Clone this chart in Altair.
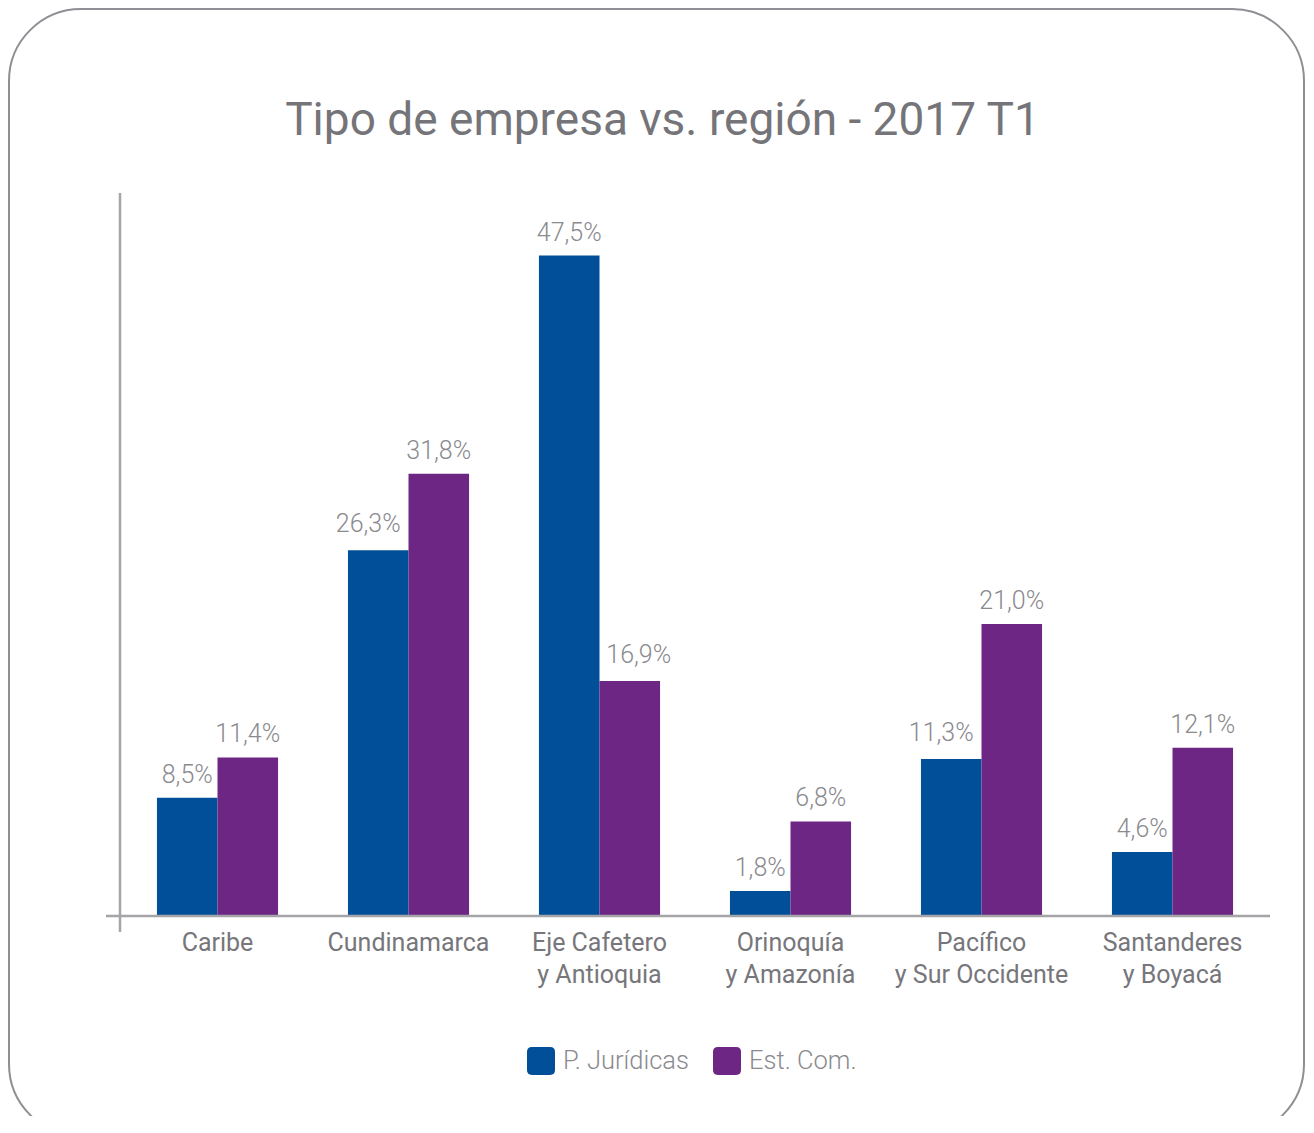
import altair as alt
import pandas as pd

# ---- data ----
regions = [
    "Caribe",
    "Cundinamarca",
    "Eje Cafetero|y Antioquia",
    "Orinoquía|y Amazonía",
    "Pacífico|y Sur Occidente",
    "Santanderes|y Boyacá",
]
series = ["P. Jurídicas", "Est. Com."]
juridicas = [8.5, 26.3, 47.5, 1.8, 11.3, 4.6]
est_com = [11.4, 31.8, 16.9, 6.8, 21.0, 12.1]
colors = ["#004f98", "#6d2683"]
title_text = "Tipo de empresa vs. región - 2017 T1"

rows = []
for r, a, b in zip(regions, juridicas, est_com):
    rows.append({"region": r, "serie": series[0], "valor": a})
    rows.append({"region": r, "serie": series[1], "valor": b})
df = pd.DataFrame(rows)

W, H = 1146, 723
FONT = "Roboto"
TXT = "#76767b"
LBL = "#8a8a8f"
LINE = "#a4a4a9"

x_enc = alt.X(
    "region:N",
    sort=regions,
    scale=alt.Scale(paddingInner=0.366, paddingOuter=0.183),
    axis=alt.Axis(
        title=None,
        labelExpr="split(datum.label, '|')",
        labelAngle=0,
        ticks=False,
        domain=False,
        labelFont=FONT,
        labelFontSize=25,
        labelColor=TXT,
        labelPadding=14,
        labelLineHeight=32,
        labelBaseline="top",
    ),
)
xoff = alt.XOffset("serie:N", sort=series, scale=alt.Scale(paddingInner=0, paddingOuter=0))
y_enc = alt.Y("valor:Q", scale=alt.Scale(domain=[0, 52], nice=False, zero=True), axis=None)

rounded = ("M -0.65,-1 L 0.65,-1 Q 1,-1 1,-0.65 L 1,0.65 Q 1,1 0.65,1 "
           "L -0.65,1 Q -1,1 -1,0.65 L -1,-0.65 Q -1,-1 -0.65,-1 Z")

base = alt.Chart(df)

bars = base.mark_bar(strokeWidth=0).encode(
    x=x_enc,
    xOffset=xoff,
    y=y_enc,
    color=alt.Color(
        "serie:N",
        sort=series,
        scale=alt.Scale(domain=series, range=colors),
        legend=alt.Legend(
            orient="none",
            legendX=405,
            legendY=854,
            direction="horizontal",
            title=None,
            symbolType=rounded,
            symbolSize=784,
            symbolStrokeWidth=0,
            symbolOpacity=1,
            labelFont=FONT,
            labelFontSize=25.5,
            labelFontWeight=300,
            labelColor=LBL,
            labelOffset=8,
            columnPadding=24,
            padding=0,
        ),
    ),
)

lab_base = base.transform_joinaggregate(
    maxv="max(valor)", groupby=["region"]
).transform_calculate(
    etiqueta="replace(format(datum.valor, '.1f'), '.', ',') + '%'"
).transform_calculate(
    shift="(datum.valor < datum.maxv && length(datum.etiqueta) >= 5) ? "
          "(datum.serie == 'P. Jurídicas' ? -1 : 1) : 0"
)

text_style = dict(fontSize=25, font=FONT, fontWeight=300, color=LBL, baseline="middle")
enc = dict(x=x_enc, xOffset=xoff, y=y_enc, text="etiqueta:N")

labels_c = lab_base.transform_filter("datum.shift == 0").mark_text(dy=-23, **text_style).encode(**enc)
labels_l = lab_base.transform_filter("datum.shift < 0").mark_text(dy=-26, dx=-10, **text_style).encode(**enc)
labels_r = lab_base.transform_filter("datum.shift > 0").mark_text(dy=-26, dx=9, **text_style).encode(**enc)

one = alt.Data(values=[{}])

border = alt.Chart(one).mark_rect(
    fillOpacity=0, stroke="#8e8e94", strokeWidth=2, cornerRadius=72
).encode(x=alt.value(-113), x2=alt.value(1182), y=alt.value(-184), y2=alt.value(943))

y_line = alt.Chart(one).mark_rule(color=LINE, strokeWidth=2.5).encode(
    x=alt.value(-2), y=alt.value(0), y2=alt.value(739)
)
x_line = alt.Chart(one).mark_rule(color=LINE, strokeWidth=2.5).encode(
    x=alt.value(-16), x2=alt.value(1148), y=alt.value(H)
)

title = alt.Chart(one).mark_text(
    text=title_text, fontSize=46, font=FONT, color="#747479",
    align="center", baseline="alphabetic"
).encode(x=alt.value(540.5), y=alt.value(-58))

chart = alt.layer(border, title, bars, labels_c, labels_l, labels_r, y_line, x_line).properties(
    width=W,
    height=H,
    autosize=alt.AutoSizeParams(type="none"),
    padding={"left": 114, "top": 185, "right": 38, "bottom": 200},
    background="white",
).configure_view(stroke=None)

chart.save("out.html", embed_options={"renderer": "svg", "actions": False})
